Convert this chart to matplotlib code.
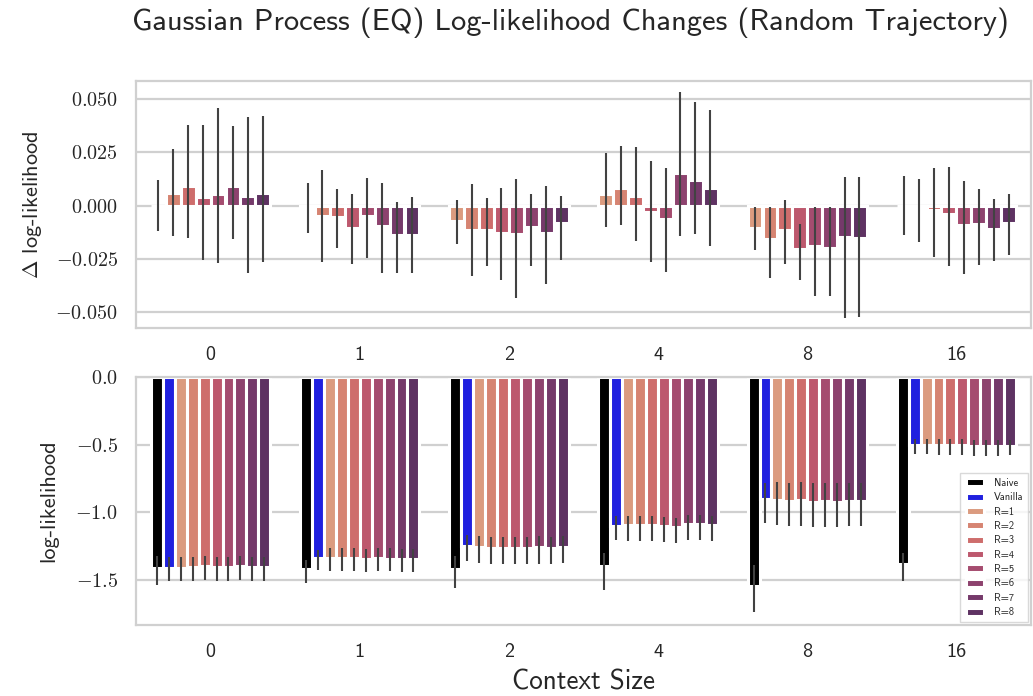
import numpy as np
import matplotlib
matplotlib.use("Agg")
import matplotlib.pyplot as plt
from matplotlib.ticker import FuncFormatter
import seaborn as sns

context_sizes = ["0", "1", "2", "4", "8", "16"]
r_labels = ["R=1", "R=2", "R=3", "R=4", "R=5", "R=6", "R=7", "R=8"]

# change in log-likelihood per R (rows: context size, cols: R=1..8)
delta_mean = [
    [0.0000, 0.0060, 0.0090, 0.0039, 0.0053, 0.0094, 0.0044, 0.0060],
    [-0.0010, -0.0047, -0.0052, -0.0107, -0.0047, -0.0094, -0.0138, -0.0138],
    [-0.0074, -0.0113, -0.0115, -0.0130, -0.0134, -0.0102, -0.0130, -0.0083],
    [0.0052, 0.0082, 0.0047, -0.0028, -0.0063, 0.0154, 0.0121, 0.0082],
    [-0.0107, -0.0157, -0.0113, -0.0204, -0.0192, -0.0197, -0.0146, -0.0150],
    [0.0000, -0.0008, -0.0020, -0.0040, -0.0090, -0.0087, -0.0110, -0.0083],
]
delta_ci_low = [
    [-0.0118, -0.0142, -0.0152, -0.0256, -0.0272, -0.0157, -0.0319, -0.0267],
    [-0.0131, -0.0267, -0.0197, -0.0275, -0.0247, -0.0315, -0.0315, -0.0319],
    [-0.0181, -0.0330, -0.0283, -0.0349, -0.0435, -0.0283, -0.0369, -0.0256],
    [-0.0102, -0.0090, -0.0165, -0.0267, -0.0311, -0.0142, -0.0134, -0.0189],
    [-0.0209, -0.0338, -0.0275, -0.0349, -0.0425, -0.0425, -0.0527, -0.0524],
    [-0.0138, -0.0173, -0.0241, -0.0283, -0.0322, -0.0278, -0.0260, -0.0231],
]
delta_ci_high = [
    [0.0118, 0.0264, 0.0377, 0.0380, 0.0456, 0.0374, 0.0414, 0.0420],
    [0.0105, 0.0165, 0.0079, 0.0055, 0.0129, 0.0108, 0.0016, 0.0042],
    [0.0024, 0.0099, 0.0036, 0.0082, 0.0126, 0.0055, 0.0094, 0.0044],
    [0.0249, 0.0280, 0.0275, 0.0208, 0.0178, 0.0534, 0.0487, 0.0448],
    [-0.0005, -0.0008, 0.0028, -0.0086, -0.0008, -0.0008, 0.0134, 0.0134],
    [0.0138, 0.0126, 0.0178, 0.0181, 0.0115, 0.0079, 0.0032, 0.0055],
]

# absolute log-likelihood
naive_mean = [-1.413, -1.420, -1.420, -1.396, -1.542, -1.383]
naive_ci_low = [-1.537, -1.524, -1.557, -1.574, -1.740, -1.507]
naive_ci_high = [-1.327, -1.351, -1.327, -1.302, -1.388, -1.302]

vanilla_mean = [-1.410, -1.335, -1.250, -1.100, -0.901, -0.500]
vanilla_ci_low = [-1.510, -1.430, -1.364, -1.203, -1.079, -0.572]
vanilla_ci_high = [-1.330, -1.277, -1.166, -1.030, -0.782, -0.460]

r_mean = [
    [-1.410, -1.404, -1.401, -1.406, -1.405, -1.401, -1.406, -1.404],
    [-1.336, -1.340, -1.340, -1.346, -1.340, -1.344, -1.349, -1.349],
    [-1.257, -1.261, -1.262, -1.263, -1.263, -1.260, -1.263, -1.258],
    [-1.095, -1.092, -1.095, -1.103, -1.106, -1.085, -1.088, -1.092],
    [-0.912, -0.917, -0.912, -0.921, -0.920, -0.921, -0.916, -0.916],
    [-0.500, -0.501, -0.502, -0.504, -0.509, -0.509, -0.511, -0.508],
]
r_ci_low = [
    [-1.505, -1.505, -1.502, -1.508, -1.506, -1.503, -1.507, -1.505],
    [-1.432, -1.434, -1.433, -1.440, -1.436, -1.438, -1.442, -1.440],
    [-1.378, -1.381, -1.380, -1.384, -1.385, -1.380, -1.386, -1.378],
    [-1.212, -1.210, -1.213, -1.220, -1.225, -1.205, -1.208, -1.212],
    [-1.098, -1.104, -1.100, -1.108, -1.106, -1.108, -1.104, -1.104],
    [-0.572, -0.574, -0.575, -0.577, -0.582, -0.581, -0.583, -0.580],
]
r_ci_high = [
    [-1.333, -1.328, -1.325, -1.330, -1.328, -1.325, -1.330, -1.328],
    [-1.262, -1.265, -1.266, -1.270, -1.266, -1.268, -1.272, -1.272],
    [-1.176, -1.180, -1.180, -1.182, -1.182, -1.178, -1.182, -1.176],
    [-1.030, -1.027, -1.030, -1.038, -1.040, -1.020, -1.023, -1.027],
    [-0.778, -0.782, -0.778, -0.786, -0.785, -0.786, -0.782, -0.782],
    [-0.456, -0.457, -0.458, -0.460, -0.465, -0.465, -0.467, -0.464],
]

sns.set_style("whitegrid")
plt.rcParams["font.family"] = ["cmss10", "DejaVu Sans"]
plt.rcParams["mathtext.fontset"] = "cm"
plt.rcParams["axes.unicode_minus"] = False
plt.rcParams["axes.formatter.use_mathtext"] = True

r_colors = [sns.desaturate(c, 0.75) for c in sns.color_palette("flare", 8)]
naive_color = sns.desaturate((0, 0, 0), 0.75)
vanilla_color = sns.desaturate((0, 0, 1), 0.75)
err_color = "#424242"
grid_color = "#d0d0d0"

fig = plt.figure(figsize=(10.33, 6.96), dpi=100)
W, H = 1033, 696
ax_top = fig.add_axes([136 / W, 1 - 328 / H, 895 / W, 247 / H])
ax_bot = fig.add_axes([136 / W, 1 - 625 / H, 895 / W, 248 / H])

groups = np.arange(len(context_sizes))


def bars_with_ci(ax, x, mean, lo, hi, color, width, label=None):
    ax.bar(x, mean, width=width, color=color, edgecolor="white",
           linewidth=2.2, label=label, zorder=2)
    ax.vlines(x, lo, hi, color=err_color, linewidth=1.5, zorder=3)


# top panel: 8 slots per group
w_top = 0.8 / 8
for j in range(8):
    x = groups - 0.4 + w_top * (j + 0.5)
    bars_with_ci(ax_top, x, [row[j] for row in delta_mean],
                 [row[j] for row in delta_ci_low],
                 [row[j] for row in delta_ci_high], r_colors[j], w_top)

# bottom panel: naive, vanilla, then R=1..8
w_bot = 0.8 / 10
x0 = groups - 0.4 + w_bot * 0.5
bars_with_ci(ax_bot, x0, naive_mean, naive_ci_low, naive_ci_high,
             naive_color, w_bot, "Naive")
bars_with_ci(ax_bot, x0 + w_bot, vanilla_mean, vanilla_ci_low, vanilla_ci_high,
             vanilla_color, w_bot, "Vanilla")
for j in range(8):
    x = x0 + w_bot * (j + 2)
    bars_with_ci(ax_bot, x, [row[j] for row in r_mean],
                 [row[j] for row in r_ci_low],
                 [row[j] for row in r_ci_high], r_colors[j], w_bot, r_labels[j])

for ax in (ax_top, ax_bot):
    ax.set_xlim(-0.5, len(context_sizes) - 0.5)
    ax.set_xticks(groups)
    ax.set_xticklabels(context_sizes)
    ax.tick_params(axis="both", length=0, pad=13)
    ax.tick_params(axis="x", labelsize=14.5)
    ax.tick_params(axis="y", labelsize=14.5)
    ax.grid(axis="y", color=grid_color, linewidth=1.6)
    ax.grid(axis="x", visible=False)
    ax.set_axisbelow(True)
    for s in ax.spines.values():
        s.set_color(grid_color)
        s.set_linewidth(1.6)

ax_top.set_ylim(-0.0575, 0.0585)
ax_top.set_yticks([-0.05, -0.025, 0.0, 0.025, 0.05])
ax_top.yaxis.set_major_formatter(FuncFormatter(lambda v, p: "$%.3f$" % v))
ax_top.set_ylabel(r"$\Delta$ log-likelihood", fontsize=16, labelpad=8)

ax_bot.set_ylim(-1.834, 0.0)
ax_bot.set_yticks([-1.5, -1.0, -0.5, 0.0])
ax_bot.yaxis.set_major_formatter(FuncFormatter(lambda v, p: "$%.1f$" % v))
ax_bot.set_ylabel("log-likelihood", fontsize=16, labelpad=12)
ax_bot.set_xlabel("Context Size", fontsize=19.5, labelpad=6)

leg = ax_bot.legend(loc="lower right", fontsize=7.5, frameon=True,
                    borderaxespad=0.25, handlelength=1.8, handleheight=0.8,
                    handletextpad=0.9, labelspacing=0.42, fancybox=False,
                    borderpad=0.5)
leg.get_frame().set_edgecolor(grid_color)
leg.get_frame().set_linewidth(1.0)

fig.suptitle("Gaussian Process (EQ) Log-likelihood Changes (Random Trajectory)",
             x=570 / W, y=1 - 8 / H, va="top", fontsize=22)

fig.savefig("out.png", dpi=100)
